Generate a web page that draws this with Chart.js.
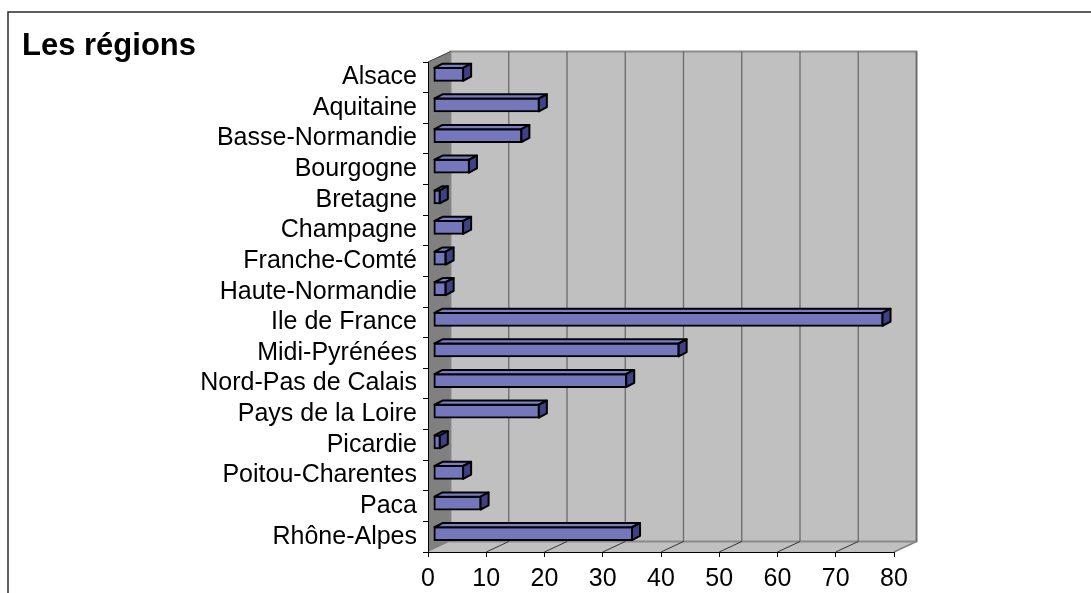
<!DOCTYPE html>
<html>
<head>
<meta charset="utf-8">
<title>Les régions</title>
<script src="https://cdn.jsdelivr.net/npm/chart.js@4"></script>
<style>
  html, body { margin: 0; padding: 0; background: #fff; }
  #wrap { width: 1091px; height: 593px; position: relative; }
</style>
</head>
<body>
<div id="wrap"><canvas id="regionsChart"></canvas></div>
<script>
// regions and their counts
const regions = [
  "Alsace", "Aquitaine", "Basse-Normandie", "Bourgogne", "Bretagne",
  "Champagne", "Franche-Comté", "Haute-Normandie", "Ile de France",
  "Midi-Pyrénées", "Nord-Pas de Calais", "Pays de la Loire", "Picardie",
  "Poitou-Charentes", "Paca", "Rhône-Alpes"
];
const counts = [5, 18, 15, 6, 1, 5, 2, 2, 77, 42, 33, 18, 1, 5, 8, 34];
const xTicks = [0, 10, 20, 30, 40, 50, 60, 70, 80];

// depth of the 3D box (back wall offset) and of each bar
const wallDx = 22.5, wallDy = -10.5;
const barShiftX = 6, barShiftY = -3;
const barDx = 8, barDy = -4.2;

const FONT = "'Liberation Sans', Arial, sans-serif";

const box3d = {
  id: "box3d",
  beforeDraw(chart) {
    const ctx = chart.ctx;
    const xs = chart.scales.x;
    const area = chart.chartArea;
    const x0 = xs.getPixelForValue(0);
    const x1 = xs.getPixelForValue(80);
    const top = area.top, bot = area.bottom;

    ctx.save();
    // frame and title
    ctx.strokeStyle = "#2b2b2b";
    ctx.lineWidth = 1.5;
    ctx.beginPath();
    ctx.moveTo(8, 593);
    ctx.lineTo(8, 12);
    ctx.lineTo(1091, 12);
    ctx.stroke();
    ctx.fillStyle = "#000";
    ctx.font = "bold 31px " + FONT;
    ctx.textBaseline = "alphabetic";
    ctx.fillText("Les régions", 22, 55);

    // floor
    ctx.fillStyle = "#c0c0c0";
    ctx.beginPath();
    ctx.moveTo(x0, bot);
    ctx.lineTo(x0 + wallDx, bot + wallDy);
    ctx.lineTo(x1 + wallDx, bot + wallDy);
    ctx.lineTo(x1, bot);
    ctx.closePath();
    ctx.fill();
    ctx.strokeStyle = "#808080";
    ctx.lineWidth = 1.5;
    ctx.beginPath();
    ctx.moveTo(x1, bot);
    ctx.lineTo(x1 + wallDx, bot + wallDy);
    ctx.stroke();

    // back wall
    ctx.fillStyle = "#c0c0c0";
    ctx.fillRect(x0 + wallDx, top + wallDy, x1 - x0, bot - top);
    ctx.strokeStyle = "#8a8a8a";
    ctx.lineWidth = 2;
    ctx.strokeRect(x0 + wallDx, top + wallDy, x1 - x0, bot - top);

    // side wall
    ctx.fillStyle = "#808080";
    ctx.beginPath();
    ctx.moveTo(x0, top);
    ctx.lineTo(x0 + wallDx, top + wallDy);
    ctx.lineTo(x0 + wallDx, bot + wallDy);
    ctx.lineTo(x0, bot);
    ctx.closePath();
    ctx.fill();
    ctx.strokeStyle = "#3a3a3a";
    ctx.lineWidth = 1;
    ctx.beginPath();
    ctx.moveTo(x0, top);
    ctx.lineTo(x0 + wallDx, top + wallDy);
    ctx.stroke();

    // gridlines on the back wall and the floor
    xTicks.forEach(v => {
      if (v === 0) return;
      const px = xs.getPixelForValue(v);
      ctx.strokeStyle = "#6a6a6a";
      ctx.lineWidth = 1.3;
      ctx.beginPath();
      ctx.moveTo(px + wallDx, top + wallDy);
      ctx.lineTo(px + wallDx, bot + wallDy);
      ctx.stroke();
      if (v === 80) return;
      ctx.strokeStyle = "#333";
      ctx.lineWidth = 1;
      ctx.beginPath();
      ctx.moveTo(px, bot);
      ctx.lineTo(px + wallDx, bot + wallDy);
      ctx.stroke();
    });
    ctx.restore();
  },
  beforeDatasetsDraw(chart) {
    // front faces sit a little into the depth of the box
    chart.ctx.save();
    chart.ctx.translate(barShiftX, barShiftY);
  },
  afterDatasetsDraw(chart) {
    const ctx = chart.ctx;
    ctx.restore();
    const meta = chart.getDatasetMeta(0);
    ctx.save();
    ctx.translate(barShiftX, barShiftY);
    ctx.lineWidth = 2;
    ctx.lineJoin = "round";
    ctx.strokeStyle = "#000";
    meta.data.forEach(bar => {
      const p = bar.getProps(["x", "y", "base", "height"], true);
      const l = p.base, r = p.x;
      const t = p.y - p.height / 2, b = p.y + p.height / 2;
      // top face
      ctx.fillStyle = "#7a7cc4";
      ctx.beginPath();
      ctx.moveTo(l, t);
      ctx.lineTo(l + barDx, t + barDy);
      ctx.lineTo(r + barDx, t + barDy);
      ctx.lineTo(r, t);
      ctx.closePath();
      ctx.fill();
      ctx.stroke();
      // right face
      ctx.fillStyle = "#3f4086";
      ctx.beginPath();
      ctx.moveTo(r, t);
      ctx.lineTo(r + barDx, t + barDy);
      ctx.lineTo(r + barDx, b + barDy);
      ctx.lineTo(r, b);
      ctx.closePath();
      ctx.fill();
      ctx.stroke();
    });
    ctx.restore();
  }
};

new Chart(document.getElementById("regionsChart"), {
  type: "bar",
  data: {
    labels: regions,
    datasets: [{
      data: counts,
      backgroundColor: "#7477bc",
      borderColor: "#000",
      borderWidth: 2,
      borderSkipped: false,
      inflateAmount: 1,
      categoryPercentage: 1,
      barPercentage: 0.42,
      clip: false
    }]
  },
  options: {
    indexAxis: "y",
    responsive: true,
    maintainAspectRatio: false,
    animation: false,
    layout: { padding: { top: 62, right: 197, left: 0, bottom: 0 } },
    plugins: { legend: { display: false }, tooltip: { enabled: false } },
    scales: {
      x: {
        min: 0,
        max: 80,
        afterFit: s => { s.height = 41; },
        afterBuildTicks: s => { s.ticks = xTicks.map(v => ({ value: v })); },
        grid: { drawOnChartArea: false, drawTicks: true, tickLength: 5, color: "#000" },
        border: { display: true, color: "#000", width: 1 },
        ticks: { color: "#000", padding: 7, maxRotation: 0, font: { family: FONT, size: 25 } }
      },
      y: {
        afterFit: s => { s.width = 428; },
        grid: { offset: true, drawOnChartArea: false, drawTicks: true, tickLength: 5, color: "#000" },
        border: { display: true, color: "#000", width: 1 },
        ticks: { color: "#000", padding: 6, autoSkip: false, font: { family: FONT, size: 25 } }
      }
    }
  },
  plugins: [box3d]
});
</script>
</body>
</html>
